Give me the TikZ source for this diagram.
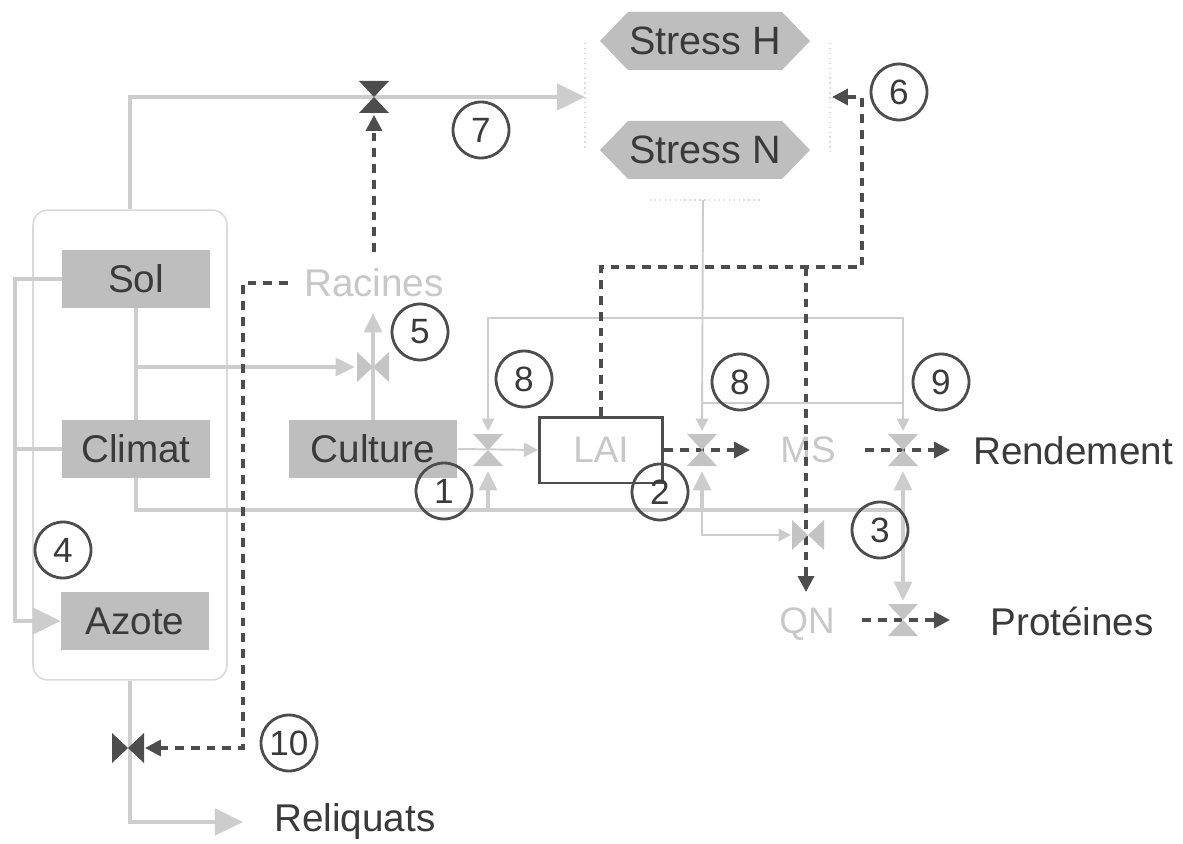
\documentclass[tikz,border=0pt]{standalone}
\usepackage{fontspec}
\setmainfont{Liberation Sans}
\usetikzlibrary{arrows.meta,calc}
\definecolor{boxgrey}{HTML}{BEBEBE}
\definecolor{linegrey}{HTML}{CDCDCD}
\definecolor{valvegrey}{HTML}{C4C4C4}
\definecolor{darkline}{HTML}{4D4D4D}
\definecolor{txtdark}{HTML}{3A3A3A}
\definecolor{ghost}{HTML}{C8C8C8}
\definecolor{faint}{HTML}{DADADA}
\tikzset{
  greybox/.style={fill=boxgrey, minimum width=2.96cm, minimum height=1.16cm, inner sep=0pt, text=txtdark, font=\fontsize{22}{24}\selectfont},
  ghosttext/.style={text=ghost, inner sep=1pt, font=\fontsize{21}{23}\selectfont},
  outtext/.style={text=txtdark, inner sep=1pt, font=\fontsize{22}{24}\selectfont},
  numc/.style={circle, draw=darkline, line width=1.6pt, minimum size=1.12cm, inner sep=0pt, text=txtdark, font=\fontsize{20}{22}\selectfont},
  liteline/.style={draw=linegrey, line width=2.3pt},
  thinline/.style={draw=linegrey, line width=1.1pt},
  dashline/.style={draw=darkline, line width=2pt, dash pattern=on 5pt off 4pt},
  litetip/.style={-{Triangle[length=11pt,width=10pt]}},
  bigtip/.style={-{Triangle[length=16pt,width=15pt]}},
  thintip/.style={-{Triangle[length=7pt,width=7pt]}},
  darktip/.style={-{Triangle[length=9pt,width=9pt]}},
  vvalve/.pic={\fill (-15,-16) -- (15,-16) -- (0,0) -- cycle (-15,16) -- (15,16) -- (0,0) -- cycle;},
  hvalve/.pic={\fill (-16,-15) -- (-16,15) -- (0,0) -- cycle (16,-15) -- (16,15) -- (0,0) -- cycle;},
}
\begin{document}
\begin{tikzpicture}[x=0.02cm,y=-0.02cm]
\useasboundingbox (0,0) rectangle (1183,844);
\fill[white] (0,0) rectangle (1183,844);

% coordinates
\coordinate (frameL) at (585,97);
\coordinate (frameR) at (832,97);
\coordinate (frameB) at (703,200);
\coordinate (v7) at (374,97);
\coordinate (v10) at (128,748);
\coordinate (v1) at (488,450);
\coordinate (v2) at (702,450);
\coordinate (v9) at (903,450);
\coordinate (v3) at (903,620);
\coordinate (v5) at (373,367);
\coordinate (vq) at (808,535);
\coordinate (j5) at (136,367);
\coordinate (v5in) at (355,367);
\coordinate (racin) at (373,313);
\coordinate (bus0) at (136,510);
\coordinate (bus1) at (488,510);
\coordinate (bus2) at (702,510);
\coordinate (bus3) at (903,510);
\coordinate (c6) at (862,267);
\coordinate (cq) at (806,267);

% container and frame
\node[draw=faint, line width=0.9pt, rounded corners=0.3cm, minimum width=3.88cm, minimum height=9.4cm] (cont) at (130,445) {};
\draw[faint, line width=0.8pt, dotted] (585,43) -- (585,150) (830,43) -- (830,152) (650,200) -- (763,200);

% stress hexagons
\fill[boxgrey] (600,41) -- (628,12) -- (782,12) -- (810,41) -- (782,70) -- (628,70) -- cycle;
\fill[boxgrey] (600,150) -- (628,121) -- (782,121) -- (810,150) -- (782,179) -- (628,179) -- cycle;
\node[outtext, font=\fontsize{22.5}{24}\selectfont] (sh) at (705,41) {Stress H};
\node[outtext, font=\fontsize{22.5}{24}\selectfont] (sn) at (705,150) {Stress N};

% boxes and texts
\node[greybox] (sol) at (136,279) {Sol};
\node[greybox] (climat) at (136,449) {Climat};
\node[greybox] (azote) at (135,621) {Azote};
\node[greybox, minimum width=3.38cm] (culture) at (373,449) {Culture};
\node[draw=darkline, line width=1.7pt, minimum width=2.46cm, minimum height=1.32cm, inner sep=0pt, text=ghost, font=\fontsize{21}{23}\selectfont] (lai) at (601,450) {LAI};
\node[ghosttext, font=\fontsize{22}{24}\selectfont] (racines) at (374,283) {Racines};
\node[ghosttext] (ms) at (808,450) {MS};
\node[ghosttext] (qn) at (807,624) {QN};
\node[outtext] (rendement) at (1073,451) {Rendement};
\node[outtext] (proteines) at (1072,621) {Protéines};
\node[outtext] (reliquats) at (355,822) {Reliquats};

% light connectors
\draw[liteline, bigtip] (cont.north) |- (frameL);
\draw[liteline, bigtip] (sol.west) -- ++(-47,0) |- (azote.west);
\draw[liteline] (climat.west) -- ++(-47,0);
\draw[liteline] (sol.south) -- (climat.north);
\draw[liteline, litetip] (j5) -- (v5in);
\draw[liteline, litetip] (culture.north) -- (racin);
\draw[liteline] (climat.south) -- (bus0) -- (bus3);
\draw[liteline, litetip] (bus1) -- (488,471);
\draw[liteline, litetip] (bus2) -- (702,471);
\draw[liteline, litetip] (bus3) -- (903,471);
\draw[liteline, litetip] (bus3) -- (903,601);
\draw[thinline, thintip] (bus2) |- (791,535);
\draw[thinline, -{Triangle[length=8pt,width=8pt]}] (culture.east) -- (lai.west);
\draw[thinline, thintip] (frameB) -- (702,431);
\draw[thinline, thintip] (903,403) -- (903,318) -- (488,318) -- (488,431);
\draw[thinline, thintip] (702,403) -- (903,403) -- (903,431);
\draw[liteline, bigtip] (cont.south) |- (243,822);

% dashed connectors
\draw[dashline, darktip] (lai.north) |- (c6) |- (frameR);
\draw[dashline, darktip] (cq) -- (806,592);
\draw[dashline, darktip] (288,283) -- (243,283) |- (145,748);
\draw[dashline, darktip] (374,252) -- (374,115);
\draw[dashline, darktip] (lai.east) -- (750,450);
\draw[dashline, darktip] (865,450) -- (950,450);
\draw[dashline, darktip] (862,620) -- (950,620);

% valves
\pic[fill=darkline] at (v7) {vvalve};
\pic[fill=darkline] at (v10) {hvalve};
\pic[fill=valvegrey] at (v1) {vvalve};
\pic[fill=valvegrey] at (v2) {vvalve};
\pic[fill=valvegrey] at (v9) {vvalve};
\pic[fill=valvegrey] at (v3) {vvalve};
\pic[fill=valvegrey] at (v5) {hvalve};
\pic[fill=valvegrey] at (vq) {hvalve};

% numbered circles
\node[numc] (n1) at (444,491) {1};
\node[numc] (n2) at (660,492) {2};
\node[numc] (n3) at (880,530) {3};
\node[numc] (n4) at (63,550) {4};
\node[numc] (n5) at (420,332) {5};
\node[numc] (n6) at (899,92) {6};
\node[numc] (n7) at (481,130) {7};
\node[numc] (n8a) at (524,379) {8};
\node[numc] (n8b) at (740,382) {8};
\node[numc] (n9) at (941,382) {9};
\node[numc] (n10) at (289,743) {10};
\end{tikzpicture}
\end{document}
